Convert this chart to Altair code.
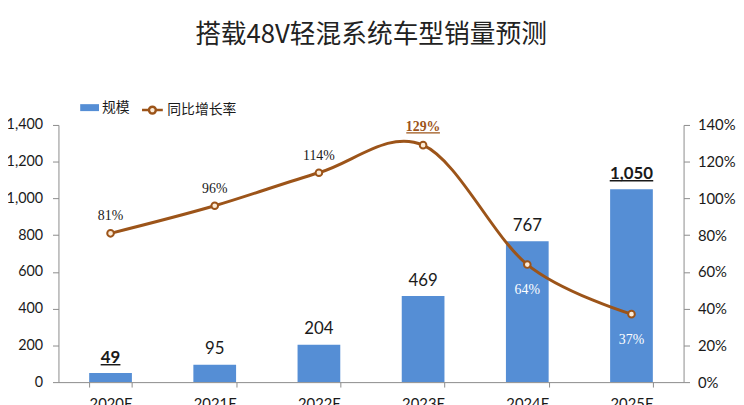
import altair as alt
import pandas as pd

years = ["2020E", "2021E", "2022E", "2023E", "2024E", "2025E"]
sales = [49, 95, 204, 469, 767, 1050]
growth = [0.81, 0.96, 1.14, 1.29, 0.64, 0.37]
sales_text = ["49", "95", "204", "469", "767", "1,050"]
growth_text = ["81%", "96%", "114%", "129%", "64%", "37%"]
title_text = "搭载48V轻混系统车型销量预测"
bar_name = "规模"
line_name = "同比增长率"
left_ticks = [0, 200, 400, 600, 800, 1000, 1200, 1400]
right_ticks = [0.0, 0.2, 0.4, 0.6, 0.8, 1.0, 1.2, 1.4]

df = pd.DataFrame({
    "year": years, "sales": sales, "growth": growth,
    "sales_text": sales_text, "growth_text": growth_text,
    "bar_series": bar_name, "line_series": line_name,
})

BLUE = "#558ED5"
BROWN = "#9C5419"
PFILL = "#FCEBD6"
AX = "#8c8c8c"
TXT = "#1a1a1a"
NUMFONT = "Lato"
SERIF = "Liberation Serif"
CJK = "Noto Sans CJK SC"

x = alt.X("year:N", sort=years,
          scale=alt.Scale(paddingInner=0.59, paddingOuter=0.295),
          axis=alt.Axis(title=None, labelAngle=0, tickBand="extent", tickSize=5,
                        labelPadding=10, domainColor=AX, tickColor=AX,
                        labelFont=NUMFONT, labelFontSize=15, labelColor=TXT))

y_left = alt.Y("sales:Q", scale=alt.Scale(domain=[0, 1400]),
               axis=alt.Axis(title=None, values=left_ticks, format=",d", grid=False,
                             tickSize=6, labelPadding=10, domainColor=AX, tickColor=AX,
                             labelFont=NUMFONT, labelFontSize=14.5, labelColor=TXT))

y_right = alt.Y("growth:Q", scale=alt.Scale(domain=[0, 1.4]),
                axis=alt.Axis(title=None, orient="right", values=right_ticks, format=".0%",
                              grid=False, tickSize=6, labelPadding=8, domainColor=AX,
                              tickColor=AX, labelFont=NUMFONT, labelFontSize=15,
                              labelColor=TXT))

base = alt.Chart(df)

bars = base.mark_bar().encode(
    x=x, y=y_left,
    color=alt.Color("bar_series:N", scale=alt.Scale(domain=[bar_name], range=[BLUE]),
                    legend=alt.Legend(title=None, orient="none", legendX=22, legendY=-27,
                                      symbolType="M-1,-0.37L1,-0.37L1,0.37L-1,0.37Z",
                                      symbolSize=361, symbolStrokeWidth=0,
                                      labelFont=CJK, labelFontSize=14, labelColor=TXT,
                                      labelOffset=3)),
)

bar_lab_n = base.mark_text(dy=-10.5, baseline="alphabetic", fontSize=17, font=NUMFONT,
                           color=TXT).encode(x=x, y=y_left, text="sales_text:N").transform_filter(
    alt.FieldOneOfPredicate(field="year", oneOf=years[1:5]))
bar_lab_b = base.mark_text(dy=-10.5, baseline="alphabetic", fontSize=17, font=NUMFONT,
                           fontWeight="bold", color=TXT).encode(
    x=x, y=y_left, text="sales_text:N").transform_filter(
    alt.FieldOneOfPredicate(field="year", oneOf=[years[0], years[5]]))
ul_first = base.mark_tick(size=20, thickness=1.5, yOffset=-8.5, color=TXT, opacity=1).encode(
    x=x, y=y_left).transform_filter(alt.FieldEqualPredicate(field="year", equal=years[0]))
ul_last = base.mark_tick(size=44, thickness=1.5, yOffset=-8.5, color=TXT, opacity=1).encode(
    x=x, y=y_left).transform_filter(alt.FieldEqualPredicate(field="year", equal=years[5]))

left = alt.layer(bars, bar_lab_n, bar_lab_b, ul_first, ul_last)

line = base.mark_line(interpolate="cardinal", tension=0, strokeWidth=3).encode(
    x=x, y=y_right,
    stroke=alt.Stroke("line_series:N", scale=alt.Scale(domain=[line_name], range=[BROWN]),
                      legend=alt.Legend(title=None, orient="none", legendX=83, legendY=-27,
                                        symbolType="M-1,0L-0.33,0M0.33,0L1,0M-0.33,0A0.33,0.33,0,1,0,0.33,0A0.33,0.33,0,1,0,-0.33,0Z",
                                        symbolSize=441, symbolStrokeWidth=2.5,
                                        symbolFillColor=PFILL,
                                        labelFont=CJK, labelFontSize=14, labelColor=TXT,
                                        labelOffset=3)),
)
points = base.mark_point(shape="circle", filled=True, size=45, fill=PFILL, stroke=BROWN,
                         strokeWidth=2, opacity=1).encode(x=x, y=y_right)

g_above = base.mark_text(dy=-13, baseline="alphabetic", fontSize=14, font=SERIF,
                         color=TXT).encode(x=x, y=y_right, text="growth_text:N").transform_filter(
    alt.FieldOneOfPredicate(field="year", oneOf=years[0:3]))
g_peak = base.mark_text(dy=-14, baseline="alphabetic", fontSize=14, font=SERIF,
                        fontWeight="bold", color=BROWN).encode(
    x=x, y=y_right, text="growth_text:N").transform_filter(
    alt.FieldEqualPredicate(field="year", equal=years[3]))
ul_peak = base.mark_tick(size=34, thickness=1.2, yOffset=-12.5, color=BROWN, opacity=1).encode(
    x=x, y=y_right).transform_filter(alt.FieldEqualPredicate(field="year", equal=years[3]))
g_below = base.mark_text(dy=30, baseline="alphabetic", fontSize=14, font=SERIF,
                         color="white").encode(x=x, y=y_right, text="growth_text:N").transform_filter(
    alt.FieldOneOfPredicate(field="year", oneOf=years[4:6]))

right = alt.layer(line, points, g_above, g_peak, ul_peak, g_below)

chart = alt.layer(left, right).resolve_scale(y="independent").properties(
    width=632, height=260,
    autosize=alt.AutoSizeParams(type="none"),
    padding={"left": 51, "top": 116, "right": 53, "bottom": 30},
    title=alt.Title(title_text, fontSize=26, font=CJK, fontWeight="normal", color="#222",
                    anchor="middle", offset=51),
).configure_view(stroke=None)

chart.save("out.html", embed_options={"renderer": "svg", "actions": False})
